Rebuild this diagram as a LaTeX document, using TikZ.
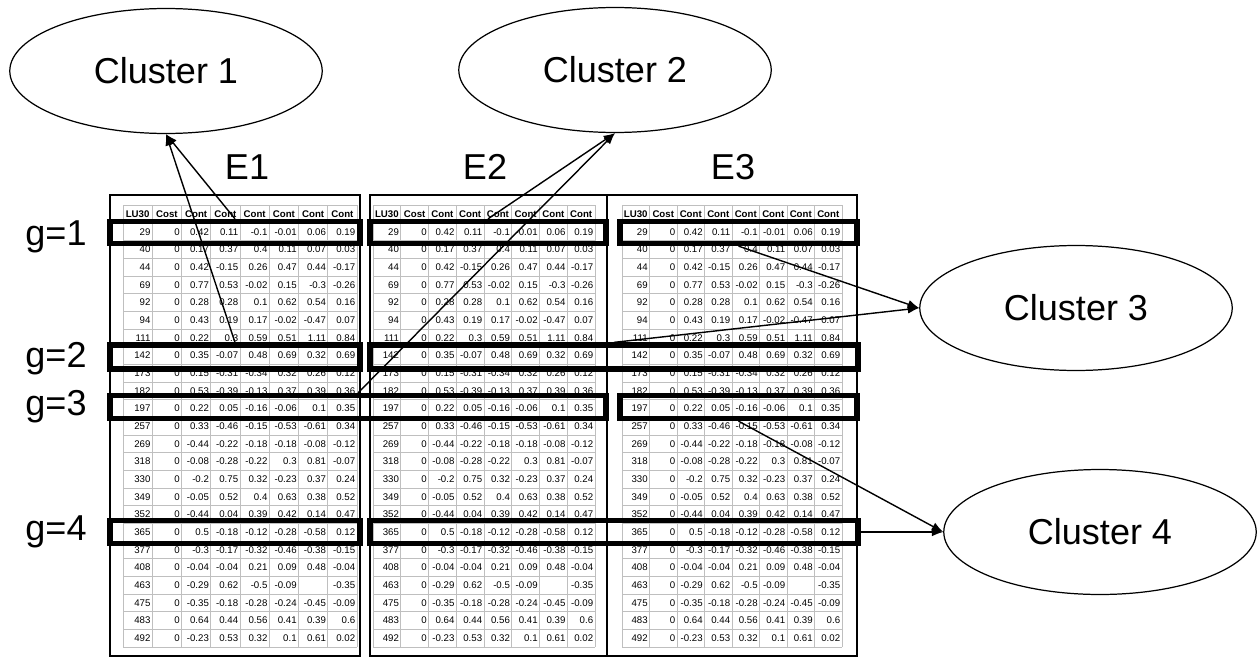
\documentclass[tikz,border=0pt]{standalone}
\usepackage{fontspec}
\setmainfont{Liberation Sans}
\usetikzlibrary{shapes.geometric,arrows.meta}

\tikzset{
  cluster/.style={draw, ellipse, line width=0.7pt, minimum width=6.25cm, minimum height=2.5cm, font=\fontsize{20.5}{24}\selectfont},
  biglabel/.style={inner sep=0pt, font=\fontsize{20.5}{24}\selectfont},
  panel/.style={draw, line width=0.9pt},
  gridline/.style={draw=black!25, line width=0.5pt},
  cell/.style={anchor=east, inner sep=0pt, font=\fontsize{5.5}{6}\selectfont},
  head/.style={inner sep=0pt, font=\fontsize{5.5}{6}\selectfont\bfseries},
  hbox/.style={draw, line width=3pt, inner sep=0pt},
  link/.style={-{Latex[length=6.5pt,width=5pt]}, line width=0.8pt},
}

% rows of the data table (same in E1, E2, E3)
\def\tabrows{%
{29,0,0.42,0.11,-0.1,-0.01,0.06,0.19},
{40,0,0.17,0.37,0.4,0.11,0.07,0.03},
{44,0,0.42,-0.15,0.26,0.47,0.44,-0.17},
{69,0,0.77,0.53,-0.02,0.15,-0.3,-0.26},
{92,0,0.28,0.28,0.1,0.62,0.54,0.16},
{94,0,0.43,0.19,0.17,-0.02,-0.47,0.07},
{111,0,0.22,0.3,0.59,0.51,1.11,0.84},
{142,0,0.35,-0.07,0.48,0.69,0.32,0.69},
{173,0,0.15,-0.31,-0.34,0.32,0.26,0.12},
{182,0,0.53,-0.39,-0.13,0.37,0.39,0.36},
{197,0,0.22,0.05,-0.16,-0.06,0.1,0.35},
{257,0,0.33,-0.46,-0.15,-0.53,-0.61,0.34},
{269,0,-0.44,-0.22,-0.18,-0.18,-0.08,-0.12},
{318,0,-0.08,-0.28,-0.22,0.3,0.81,-0.07},
{330,0,-0.2,0.75,0.32,-0.23,0.37,0.24},
{349,0,-0.05,0.52,0.4,0.63,0.38,0.52},
{352,0,-0.44,0.04,0.39,0.42,0.14,0.47},
{365,0,0.5,-0.18,-0.12,-0.28,-0.58,0.12},
{377,0,-0.3,-0.17,-0.32,-0.46,-0.38,-0.15},
{408,0,-0.04,-0.04,0.21,0.09,0.48,-0.04},
{463,0,-0.29,0.62,-0.5,-0.09,{},-0.35},
{475,0,-0.35,-0.18,-0.28,-0.24,-0.45,-0.09},
{483,0,0.64,0.44,0.56,0.41,0.39,0.6},
{492,0,-0.23,0.53,0.32,0.1,0.61,0.02}}

\begin{document}
\begin{tikzpicture}[x=0.02cm, y=-0.02cm]
    \useasboundingbox (0,0) rectangle (1257,659);

    % Panels
    \draw[panel] (110,195) rectangle (360,656);
    \draw[panel] (370,195) rectangle (607,656);
    \draw[panel] (607,195) rectangle (857,656);

    % Tables
    \foreach \px/\cw [count=\p] in {123/29.25, 373/27.75, 622/27.5} {
        \foreach \c in {0,...,8}
            \draw[gridline] ({\px+\c*\cw},205) -- ({\px+\c*\cw},647);
        \draw[gridline] (\px,205) -- ({\px+8*\cw},205);
        \foreach \r in {0,...,24}
            \draw[gridline] (\px,{223+\r*17.67}) -- ({\px+8*\cw},{223+\r*17.67});
        \foreach \h [count=\c] in {LU30,Cost,Cont,Cont,Cont,Cont,Cont,Cont}
            \node[head] (h\p-\c) at ({\px+(\c-0.5)*\cw},214) {\h};
        \foreach \row [count=\r] in \tabrows
            \foreach \v [count=\c] in \row
                \node[cell] (v\p-\r-\c) at ({\px+\c*\cw-1.5},{223+(\r-0.5)*17.67}) {\v};
    }

    % Panel titles and group labels
    \node[biglabel, anchor=base] (e1) at (247,179) {E1};
    \node[biglabel, anchor=base] (e2) at (485,179) {E2};
    \node[biglabel, anchor=base] (e3) at (733,179) {E3};
    \node[biglabel, anchor=base] (g1) at (56,245) {g=1};
    \node[biglabel, anchor=base] (g2) at (56,367) {g=2};
    \node[biglabel, anchor=base] (g3) at (56,415) {g=3};
    \node[biglabel, anchor=base] (g4) at (56,540) {g=4};

    % Highlighted rows
    \node[hbox, minimum width=5cm, minimum height=0.44cm] (b11) at (235,232.5) {};
    \node[hbox, minimum width=4.72cm, minimum height=0.44cm] (b12) at (488,232.5) {};
    \node[hbox, minimum width=4.74cm, minimum height=0.44cm] (b13) at (738.5,232.5) {};
    \node[hbox, minimum width=5cm, minimum height=0.48cm] (b21) at (235,357) {};
    \node[hbox, minimum width=9.76cm, minimum height=0.48cm] (b22) at (614,357) {};
    \node[hbox, minimum width=9.92cm, minimum height=0.46cm] (b31) at (358,407) {};
    \node[hbox, minimum width=4.74cm, minimum height=0.46cm] (b32) at (738.5,407) {};
    \node[hbox, minimum width=5cm, minimum height=0.46cm] (b41) at (235,532) {};
    \node[hbox, minimum width=9.76cm, minimum height=0.46cm] (b42) at (614,532) {};

    % Clusters
    \node[cluster] (c1) at (166,71) {Cluster 1};
    \node[cluster] (c2) at (615,70) {Cluster 2};
    \node[cluster] (c3) at (1076,308) {Cluster 3};
    \node[cluster] (c4) at (1100,532) {Cluster 4};

    % Assignments
    \draw[link] (b11.north) -- (c1.south);
    \draw[link] (b21.north) -- (c1.south);
    \draw[link] (b12.north) -- (c2.south);
    \draw[link] (b31.north) -- (c2.south);
    \draw[link] (b13.south) -- (c3.west);
    \draw[link] (b22.north) -- (c3.west);
    \draw[link] (b32.south) -- (c4.west);
    \draw[link] (b42.east) -- (c4.west);

\end{tikzpicture}
\end{document}
